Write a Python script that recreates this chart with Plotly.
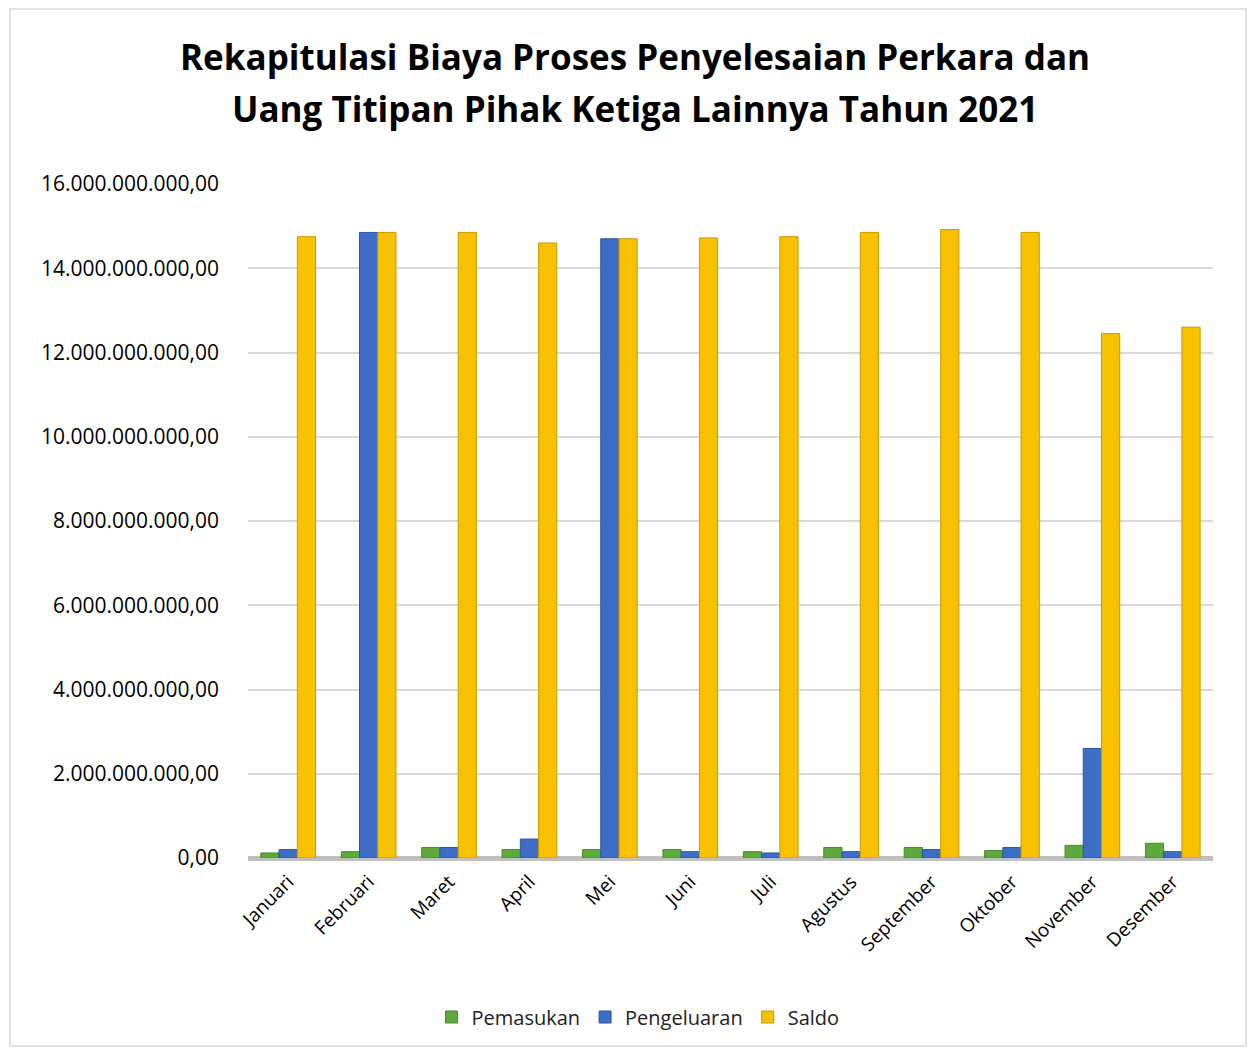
import plotly.graph_objects as go

months = ["Januari", "Februari", "Maret", "April", "Mei", "Juni", "Juli",
          "Agustus", "September", "Oktober", "November", "Desember"]
pemasukan = [0.12e9, 0.15e9, 0.25e9, 0.2e9, 0.2e9, 0.2e9, 0.15e9, 0.25e9, 0.25e9, 0.18e9, 0.3e9, 0.35e9]
pengeluaran = [0.2e9, 14.85e9, 0.25e9, 0.45e9, 14.7e9, 0.15e9, 0.12e9, 0.15e9, 0.2e9, 0.25e9, 2.6e9, 0.15e9]
saldo = [14.75e9, 14.85e9, 14.85e9, 14.6e9, 14.7e9, 14.72e9, 14.75e9, 14.85e9, 14.92e9, 14.85e9, 12.45e9, 12.6e9]

tick_vals = [0, 2e9, 4e9, 6e9, 8e9, 10e9, 12e9, 14e9, 16e9]
tick_text = ["0,00", "2.000.000.000,00", "4.000.000.000,00", "6.000.000.000,00",
             "8.000.000.000,00", "10.000.000.000,00", "12.000.000.000,00",
             "14.000.000.000,00", "16.000.000.000,00"]

title_lines = ["Rekapitulasi Biaya Proses Penyelesaian Perkara dan",
               "Uang Titipan Pihak Ketiga Lainnya Tahun 2021"]

FONT = "Open Sans, Noto Sans, sans-serif"

OFF = 8  # page body margin
W, H = 1248, 1042
# plot area in screen pixels: x 248..1213, y 184..858
L, R = 248 - OFF, W - (1213 - OFF)
T, B = 184 - OFF, H - (858 - OFF)
pw, ph = W - L - R, H - T - B

def px_x(x):
    return (x - OFF - L) / pw

def px_y(y):
    return (H - B - (y - OFF)) / ph

fig = go.Figure()
series = [("Pemasukan", pemasukan, "#5FA83C", "#4A8A2C"),
          ("Pengeluaran", pengeluaran, "#3D6DC5", "#2E579F"),
          ("Saldo", saldo, "#F7C100", "#C99B00")]
for name, vals, col, edge in series:
    fig.add_trace(go.Bar(x=months, y=vals, name=name,
                         marker=dict(color=col, line=dict(color=edge, width=1))))

annotations = []
for i, line in enumerate(title_lines):
    annotations.append(dict(text="<b>" + line + "</b>", showarrow=False,
                            xref="paper", yref="paper",
                            x=px_x(635), y=px_y(56 + 52 * i),
                            xanchor="center", yanchor="middle",
                            font=dict(family=FONT, size=35, color="black")))

fig.update_layout(
    width=W, height=H,
    paper_bgcolor="white", plot_bgcolor="white",
    barmode="group", bargap=0.32, bargroupgap=0.0,
    margin=dict(l=L, r=R, t=T, b=B),
    font=dict(family=FONT, color="black"),
    legend=dict(orientation="h", x=px_x(638), xanchor="center", y=px_y(1017), yanchor="middle",
                font=dict(size=20, color="#222"), itemwidth=30,
                traceorder="normal"),
    xaxis=dict(tickangle=-45, tickfont=dict(size=19), showline=False,
               ticks="", showgrid=False, ticklabelstandoff=8),
    yaxis=dict(range=[0, 16e9], tickvals=tick_vals, ticktext=tick_text,
               tickfont=dict(size=21), showgrid=True, gridcolor="#D9D9D9",
               gridwidth=1.5, zeroline=True, zerolinecolor="#BFBFBF", zerolinewidth=5,
               ticks="", ticklabelstandoff=28),
    annotations=annotations,
    shapes=[dict(type="rect", xref="paper", yref="paper",
                 x0=px_x(10), x1=px_x(1246), y0=px_y(1046), y1=px_y(9),
                 line=dict(color="#D9D9D9", width=1.5), fillcolor="rgba(0,0,0,0)", layer="below")],
)

fig.write_html("out.html")
